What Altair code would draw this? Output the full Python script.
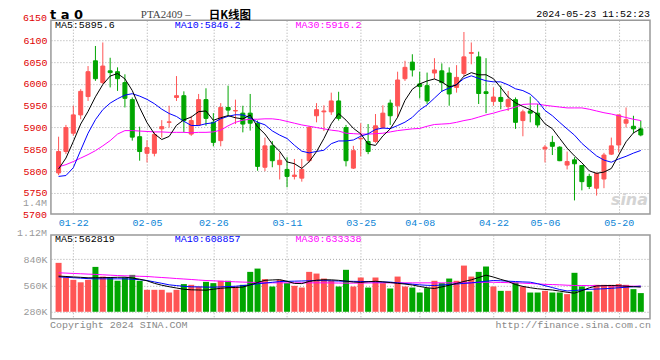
import altair as alt
import pandas as pd

# ---------------- data ----------------
dates = ["01-18","01-19","01-22","01-23","01-24","01-25","01-26","01-29","01-30","01-31",
         "02-01","02-02","02-05","02-06","02-07","02-08","02-19","02-20","02-21","02-22",
         "02-23","02-26","02-27","02-28","02-29","03-01","03-04","03-05","03-06","03-07",
         "03-08","03-11","03-12","03-13","03-14","03-15","03-18","03-19","03-20","03-21",
         "03-22","03-25","03-26","03-27","03-28","03-29","04-01","04-02","04-03","04-08",
         "04-09","04-10","04-11","04-12","04-15","04-16","04-17","04-18","04-19","04-22",
         "04-23","04-24","04-25","04-26","04-29","04-30","05-06","05-07","05-08","05-09",
         "05-10","05-13","05-14","05-15","05-16","05-17","05-20","05-21","05-22","05-23"]

open_ = [5796,5845,5887,5929,5971,6053,6003,6030,6028,6003,
         5964,5879,5841,5841,5897,5912,5969,5973,5885,5906,
         5964,5912,5870,5946,5938,5933,5933,5910,5809,5858,
         5815,5804,5788,5784,5824,5927,5936,5936,5961,5900,
         5807,5874,5868,5868,5900,5956,5950,6012,6050,6000,
         5996,6025,6030,6025,5992,6024,6070,6062,5982,5960,
         5969,5948,5964,5916,5938,5933,5851,5866,5855,5814,
         5826,5813,5788,5761,5782,5839,5860,5910,5903,5897]
high = [5879,5906,5950,5988,6041,6087,6095,6060,6038,6022,
        5969,5902,5871,5890,5917,5950,6018,5983,5927,5977,
        5990,5933,5956,5996,5964,5950,5977,5916,5877,5869,
        5843,5832,5828,5828,5904,5956,5951,5980,5982,5906,
        5858,5910,5908,5931,5951,5964,6028,6053,6068,6028,
        6026,6059,6047,6038,6043,6119,6095,6074,6059,5992,
        5996,5984,5969,5941,5971,5954,5860,5881,5857,5845,
        5832,5814,5794,5797,5842,5877,5929,5946,5927,5916]
low = [5791,5839,5881,5919,5961,6007,6000,5992,5984,5946,
       5870,5824,5820,5834,5877,5900,5961,5889,5881,5904,
       5904,5857,5857,5927,5908,5889,5893,5801,5800,5809,
       5781,5763,5781,5776,5820,5912,5892,5929,5916,5811,
       5805,5834,5839,5865,5897,5906,5923,6007,6017,5967,
       5954,6011,5982,5950,5980,6018,6045,5954,5933,5950,
       5942,5938,5897,5880,5912,5900,5820,5837,5823,5804,
       5733,5756,5759,5744,5761,5837,5843,5900,5887,5880]
close = [5845,5900,5929,5983,6028,6012,6041,6026,6012,5967,
         5878,5845,5854,5884,5902,5913,5973,5916,5916,5964,
         5921,5866,5946,5940,5939,5908,5910,5811,5858,5824,
         5825,5788,5791,5804,5900,5941,5938,5961,5921,5824,
         5847,5875,5845,5904,5933,5927,6009,6038,6032,5994,
         5961,6032,6003,5977,6015,6062,6072,5978,5978,5970,
         5960,5964,5912,5936,5933,5906,5855,5857,5824,5822,
         5817,5776,5765,5795,5837,5858,5929,5918,5897,5883]

ma5 = [5805,5830,5868,5908,5937,5970.4,5998.6,6018,6023.8,6011.6,
       5984.8,5945.6,5911.2,5885.6,5872.6,5879.6,5905.2,5917.6,5924,5936.4,
       5938,5916.6,5922.6,5927.4,5922.4,5919.8,5928.6,5901.6,5885.2,5862.2,
       5845.6,5821.2,5817.2,5806.4,5821.6,5844.8,5874.8,5908.8,5932.2,5917,
       5898.2,5885.6,5862.4,5859,5880.8,5896.8,5923.6,5962.2,5987.8,6000,
       6006.8,6011.4,6004.4,5993.4,5997.6,6017.8,6025.8,6020.8,6021,6012,
       5991.6,5970,5956.8,5948.4,5941,5930.2,5908.4,5897.4,5875,5852.8,
       5835,5819.2,5800.8,5795,5798,5806.2,5836.8,5867.4,5887.8,5897]
ma10 = [5788,5790,5808,5848,5887,5918,5941,5956,5966,5974.3,
        5977.6,5972.1,5964.6,5954.7,5942.1,5932.2,5925.4,5914.4,5904.8,5904.5,
        5908.8,5910.9,5920.1,5925.7,5929.4,5928.9,5922.6,5912.1,5906.3,5892.3,
        5882.7,5874.9,5859.4,5845.8,5841.9,5845.2,5848,5863,5869.3,5869.3,
        5871.5,5880.2,5885.6,5895.6,5898.9,5897.5,5904.6,5912.3,5923.4,5940.4,
        5951.8,5967.5,5983.3,5990.6,5998.8,6012.3,6018.6,6012.6,6007.2,6004.8,
        6004.7,5997.9,5988.8,5984.7,5976.5,5960.9,5939.2,5927.1,5911.7,5896.9,
        5882.6,5863.8,5849.1,5835,5825.4,5820.6,5828,5834.1,5841.4,5847.5]
ma30 = [5810,5815,5822,5830,5838,5847,5858,5870,5885,5893,
        5893,5892,5891,5890,5890,5889,5889,5889,5888,5889,
        5889,5890,5894,5904,5912,5917,5919,5919,5920,5920,
        5918,5914,5910,5906,5903,5900,5897,5894,5892,5887,
        5886,5885,5885,5886,5887,5890,5893,5895,5897,5898,
        5903,5907,5908,5909,5912,5916,5919,5924,5929,5933,
        5938,5942,5947,5953,5954,5954,5951,5949,5947,5945,
        5945,5945,5942,5938,5934,5931,5927,5923,5919,5916]

volume_k = [801,647,620,594,620,758,655,645,610,645,
            673,610,514,514,514,485,514,575,567,549,
            599,585,610,610,549,567,705,740,628,549,
            620,585,556,538,705,687,634,610,549,727,
            549,645,538,645,585,528,655,549,538,485,
            532,610,585,634,610,772,655,705,762,549,
            503,503,591,549,485,485,503,485,485,468,
            695,549,496,567,567,567,575,567,521,479]
vma5_k = [660,656,651,647,642,642,644,645,647,648,
          640,627,610,583,563,547,533,520,514,512,
          510,520,530,536,539,543,567,592,615,619,
          622,605,582,580,603,616,621,620,615,606,
          597,593,600,605,599,591,583,575,565,550,
          536,528,545,562,582,603,620,645,670,650,
          625,603,570,550,536,525,518,512,500,488,
          478,505,535,555,558,560,557,552,547,543]
vma10_k = [652,647,643,638,633,631,631,631,631,631,
           627,622,613,598,583,567,559,551,546,545,
           543,542,545,549,552,559,567,578,586,594,
           602,604,606,608,610,612,611,610,607,605,
           604,603,601,599,597,596,588,581,574,567,
           562,560,565,571,576,582,588,596,605,613,
           610,606,602,598,595,579,558,538,517,502,
           506,514,519,522,525,530,536,541,547,553]
vma30_k = [695,692,688,685,681,678,674,670,666,663,
           661,658,656,650,645,640,634,629,624,618,
           613,610,606,602,599,596,594,591,588,588,
           588,588,588,588,588,588,588,587,586,585,
           585,586,587,588,588,588,588,588,588,588,
           588,588,588,588,588,588,589,592,595,594,
           592,590,588,585,581,577,572,570,567,563,
           560,560,559,558,557,556,555,554,553,553]

tick_idx = [2, 12, 21, 31, 41, 49, 59, 66, 76]
price_ticks = [5750, 5800, 5850, 5900, 5950, 6000, 6050, 6100]
price_edge_ticks = [5700, 6150]
vol_ticks = [280000, 560000, 840000]
vol_edge_ticks = [1120000]

# ---------------- tables ----------------
df = pd.DataFrame({
    "i": list(range(len(dates))), "date": dates,
    "open": open_, "high": high, "low": low, "close": close,
    "ma5": ma5, "ma10": ma10, "ma30": ma30,
    "vol": [v * 1000 for v in volume_k],
    "vma5": [v * 1000 for v in vma5_k],
    "vma10": [v * 1000 for v in vma10_k],
    "vma30": [v * 1000 for v in vma30_k],
})
df["dir"] = ["up" if c >= o else "down" for o, c in zip(open_, close)]

RED = "#ff5555"
GREEN = "#00a600"
MONO = "Liberation Mono"
GRID = "#a8a8a8"

date_arr = "[" + ",".join("'" + d + "'" for d in dates) + "]"
xscale = alt.Scale(domain=[-0.36, 79.57], nice=False, zero=False)

x_price = alt.X("i:Q", scale=xscale, title=None,
                axis=alt.Axis(values=tick_idx, labelExpr=date_arr + "[datum.value]",
                              labelColor="#0a84d6", labelFont=MONO, labelFontSize=10,
                              labelPadding=4, labelOverlap=False, labelFlush=False,
                              ticks=False, domain=False, grid=True, gridDash=[1, 2],
                              gridColor=GRID))
x_vol = alt.X("i:Q", scale=xscale, title=None,
              axis=alt.Axis(values=tick_idx, labels=False, ticks=False, domain=False,
                            grid=True, gridDash=[1, 2], gridColor=GRID))

pscale = alt.Scale(domain=[5702, 6146], nice=False, zero=False)
paxis = alt.Axis(values=price_ticks, format="d", labelColor="#e00000", labelFont=MONO,
                 labelFontSize=10, labelPadding=4, labelOverlap=False, ticks=False,
                 domain=False, grid=True, gridDash=[1, 2], gridColor=GRID,
                 minExtent=42, maxExtent=42)

def PY(field):
    return alt.Y(field + ":Q", scale=pscale, axis=paxis, title=None)

vscale = alt.Scale(domain=[205600, 1098700], nice=False, zero=False)
vol_fmt = "datum.value >= 1000000 ? format(datum.value/1000000, '.2f') + 'M' : format(datum.value/1000, 'd') + 'K'"
vaxis = alt.Axis(values=vol_ticks, labelExpr=vol_fmt,
                 labelColor="#999999", labelFont=MONO, labelFontSize=10, labelPadding=4,
                 labelOverlap=False, ticks=False, domain=False, grid=True, gridDash=[1, 2],
                 gridColor=GRID, minExtent=42, maxExtent=42)

def VY(field):
    return alt.Y(field + ":Q", scale=vscale, axis=vaxis, title=None)

col = alt.Color("dir:N", scale=alt.Scale(domain=["up", "down"], range=[RED, GREEN]), legend=None)
stk = alt.Stroke("dir:N", scale=alt.Scale(domain=["up", "down"], range=[RED, GREEN]), legend=None)

def label(text, px, py, color, size=10, font=MONO, align="left", weight="normal",
          style="normal", baseline="middle"):
    return alt.Chart(pd.DataFrame({"t": [text]})).mark_text(
        align=align, baseline=baseline, font=font, fontSize=size, fontWeight=weight,
        fontStyle=style, color=color
    ).encode(x=alt.value(px), y=alt.value(py), text="t:N")

base = alt.Chart(df)

wick = base.mark_rule(strokeWidth=1).encode(x=x_price, y=PY("low"), y2="high", color=col)
body = base.mark_bar(width=4, strokeWidth=1).encode(x=x_price, y=PY("open"), y2="close",
                                                    color=col, stroke=stk)
l5 = base.mark_line(strokeWidth=1, color="black").encode(x=x_price, y=PY("ma5"))
l10 = base.mark_line(strokeWidth=1, color="#0000ff").encode(x=x_price, y=PY("ma10"))
l30 = base.mark_line(strokeWidth=1, color="#ff00ff").encode(x=x_price, y=PY("ma30"))

# edge tick labels that sit just outside the plotted price range
pedge = alt.Chart(pd.DataFrame({"p": price_edge_ticks})).mark_text(
    align="right", baseline="middle", font=MONO, fontSize=10, color="#e00000"
).encode(x=alt.value(-4), y=PY("p"), text=alt.Text("p:Q", format="d"))

price = alt.layer(
    wick, body, l30, l10, l5, pedge,
    label("MA5:5895.6", 4, 5, "black"),
    label("MA10:5846.2", 124, 5, "#0000ff"),
    label("MA30:5916.2", 245, 5, "#ff00ff"),
    label("t a 0", -1, -11.5, "black", size=13, font="DejaVu Sans", weight="bold",
          baseline="top"),
    label("PTA2409 –", 90, -11, "#444444", size=11, font="Liberation Serif", baseline="top"),
    label("日K线图", 158, -10.5, "black", size=11.5, font="Noto Sans CJK SC", weight="bold",
          baseline="top"),
    label("2024-05-23 11:52:23", 600, -11, "black", size=10, align="right", baseline="top"),
    label("1.4M", -4, 183, "#999999", size=10, align="right"),
    label("sina", 598, 180, "#d4d4d4", size=16, font="DejaVu Sans", align="right",
          weight="bold", style="italic"),
).properties(width=600, height=194)

vbar = base.mark_bar(width=6).encode(x=x_vol, y=VY("vol"), y2=alt.datum(280000), color=col)
v5 = base.mark_line(strokeWidth=1, color="black").encode(x=x_vol, y=VY("vma5"))
v10 = base.mark_line(strokeWidth=1, color="#0000ff").encode(x=x_vol, y=VY("vma10"))
v30 = base.mark_line(strokeWidth=1, color="#ff00ff").encode(x=x_vol, y=VY("vma30"))

vedge = alt.Chart(pd.DataFrame({"v": vol_edge_ticks})).mark_text(
    align="right", baseline="middle", font=MONO, fontSize=10, color="#999999"
).encode(x=alt.value(-4), y=VY("v"),
         text=alt.Text("label:N")).transform_calculate(label=vol_fmt.replace("datum.value", "datum.v"))

vol = alt.layer(
    vbar, v30, v10, v5, vedge,
    label("MA5:562819", 4, 4.5, "black"),
    label("MA10:608857", 124, 4.5, "#0000ff"),
    label("MA30:633338", 245, 4.5, "#ff00ff"),
    label("Copyright 2024 SINA.COM", -1, 90, "#888888"),
    label("http://finance.sina.com.cn", 601, 90, "#888888", align="right"),
).properties(width=600, height=84)

chart = alt.vconcat(price, vol, spacing=21, bounds="flush").properties(
    padding={"left": 0, "top": -1, "right": 0, "bottom": 0},
    background="white",
).configure_view(stroke="#999999", strokeWidth=1.5)

chart.save("out.html", embed_options={"renderer": "svg", "actions": False})
